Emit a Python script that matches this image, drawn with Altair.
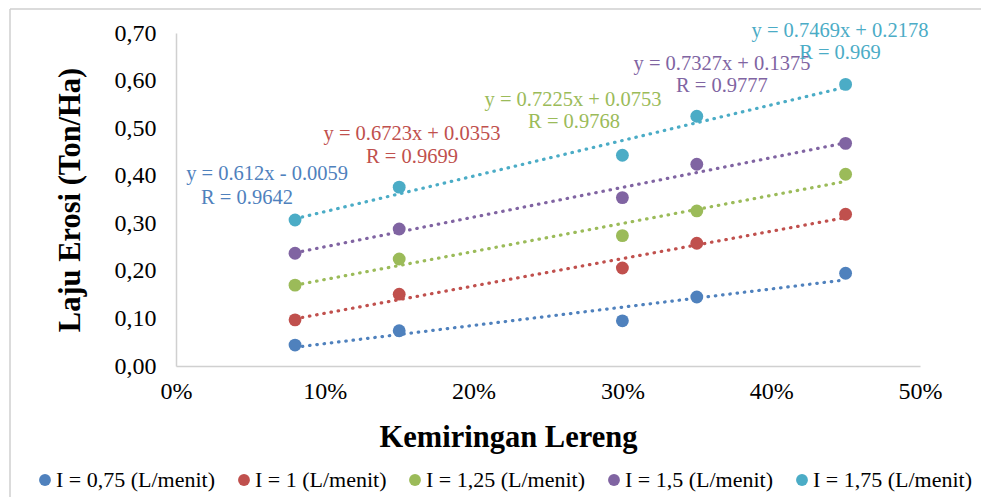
import altair as alt
import pandas as pd

slopes = [0.08, 0.15, 0.30, 0.35, 0.45]
series_names = ["I = 0,75 (L/menit)", "I = 1 (L/menit)", "I = 1,25 (L/menit)",
                "I = 1,5 (L/menit)", "I = 1,75 (L/menit)"]
colors = ["#4F81BD", "#C0504D", "#9BBB59", "#8064A2", "#4BACC6"]
erosi_075 = [0.044, 0.074, 0.095, 0.145, 0.195]
erosi_100 = [0.097, 0.151, 0.206, 0.258, 0.319]
erosi_125 = [0.170, 0.225, 0.274, 0.326, 0.403]
erosi_150 = [0.237, 0.288, 0.354, 0.424, 0.468]
erosi_175 = [0.307, 0.376, 0.443, 0.525, 0.592]
all_values = [erosi_075, erosi_100, erosi_125, erosi_150, erosi_175]

eq_texts = ["y = 0.612x - 0.0059", "y = 0.6723x + 0.0353", "y = 0.7225x + 0.0753",
            "y = 0.7327x + 0.1375", "y = 0.7469x + 0.2178"]
r_texts = ["R = 0.9642", "R = 0.9699", "R = 0.9768", "R = 0.9777", "R = 0.969"]
eq_x = [0.0612, 0.1586, 0.2668, 0.3669, 0.4462]
eq_y = [0.403, 0.487, 0.559, 0.634, 0.704]
r_x = [0.0477, 0.1586, 0.2675, 0.3669, 0.4462]
r_y = [0.353, 0.439, 0.513, 0.588, 0.658]

rows = []
for name, vals in zip(series_names, all_values):
    for s, v in zip(slopes, vals):
        rows.append({"series": name, "slope": s, "erosi": v})
df = pd.DataFrame(rows)

labels = []
for i, name in enumerate(series_names):
    labels.append({"series": name, "text": eq_texts[i], "lx": eq_x[i], "ly": eq_y[i]})
    labels.append({"series": name, "text": r_texts[i], "lx": r_x[i], "ly": r_y[i]})
lab_df = pd.DataFrame(labels)

FONT = "Liberation Serif"
W, H = 744, 333

color_scale = alt.Scale(domain=series_names, range=colors)
xscale = alt.Scale(domain=[0, 0.5], nice=False)
yscale = alt.Scale(domain=[0, 0.7], nice=False)

x_axis = alt.Axis(title="Kemiringan Lereng", format=".0%", values=[0, 0.1, 0.2, 0.3, 0.4, 0.5],
                  grid=False, ticks=False, labelPadding=13, labelFontSize=24, labelFlush=False,
                  labelFont=FONT, labelColor="#000000",
                  domainColor="#d0d0d0", domainWidth=1.5,
                  titleFont=FONT, titleFontSize=30.5, titleFontWeight="bold", titleColor="#000000",
                  titleX=332, titleY=71, titleAlign="center", titleBaseline="middle")
y_axis = alt.Axis(title="Laju Erosi (Ton/Ha)", values=[0, 0.1, 0.2, 0.3, 0.4, 0.5, 0.6, 0.7],
                  labelExpr="replace(format(datum.value, '.2f'), '.', ',')",
                  grid=False, ticks=False, labelPadding=20, labelFontSize=24, labelFlush=False,
                  labelFont=FONT, labelColor="#000000",
                  domainColor="#d0d0d0", domainWidth=1.5,
                  titleFont=FONT, titleFontSize=30.5, titleFontWeight="bold", titleColor="#000000",
                  titleX=-106, titleY=H / 2, titleAngle=-90, titleAlign="center", titleBaseline="middle")

legend = alt.Legend(
    title=None, orient="none", legendX=-142, legendY=436, direction="horizontal",
    symbolType="circle", symbolSize=140, symbolStrokeWidth=0, padding=0,
    labelFont=FONT, labelFontSize=22, labelColor="#000000", labelOffset=0,
    columnPadding=17, labelLimit=300)
color_enc = alt.Color("series:N", scale=color_scale, legend=legend)

base = alt.Chart(df)
frame = alt.Chart(pd.DataFrame({"a": [0]}))

border_top = frame.mark_rule(stroke="#cfcfcf", strokeWidth=1.5, clip=False).encode(
    x=alt.value(-166), x2=alt.value(900), y=alt.value(-24))
border_left = frame.mark_rule(stroke="#cfcfcf", strokeWidth=1.5, clip=False).encode(
    x=alt.value(-166), y=alt.value(-24), y2=alt.value(500))

trend = base.transform_regression(
    "slope", "erosi", groupby=["series"]
).mark_line(strokeDash=[0.5, 6.8], strokeWidth=3.2, strokeCap="round").encode(
    x=alt.X("slope:Q", scale=xscale, axis=x_axis),
    y=alt.Y("erosi:Q", scale=yscale, axis=y_axis),
    color=color_enc,
)

points = base.mark_circle(size=165, opacity=1).encode(
    x=alt.X("slope:Q", scale=xscale, axis=x_axis),
    y=alt.Y("erosi:Q", scale=yscale, axis=y_axis),
    color=color_enc,
)

texts = alt.Chart(lab_df).mark_text(font=FONT, fontSize=20.5, baseline="middle", align="center").encode(
    x=alt.X("lx:Q", scale=xscale),
    y=alt.Y("ly:Q", scale=yscale),
    text="text:N",
    color=color_enc,
)

chart = alt.layer(border_top, border_left, trend, points, texts).properties(
    width=W, height=H,
    autosize=alt.AutoSizeParams(type="none"),
    padding={"left": 168, "top": 25, "right": 61, "bottom": 131},
    background="white",
).configure_view(stroke=None)

chart.save("out.html", embed_options={"renderer": "svg", "actions": False})
